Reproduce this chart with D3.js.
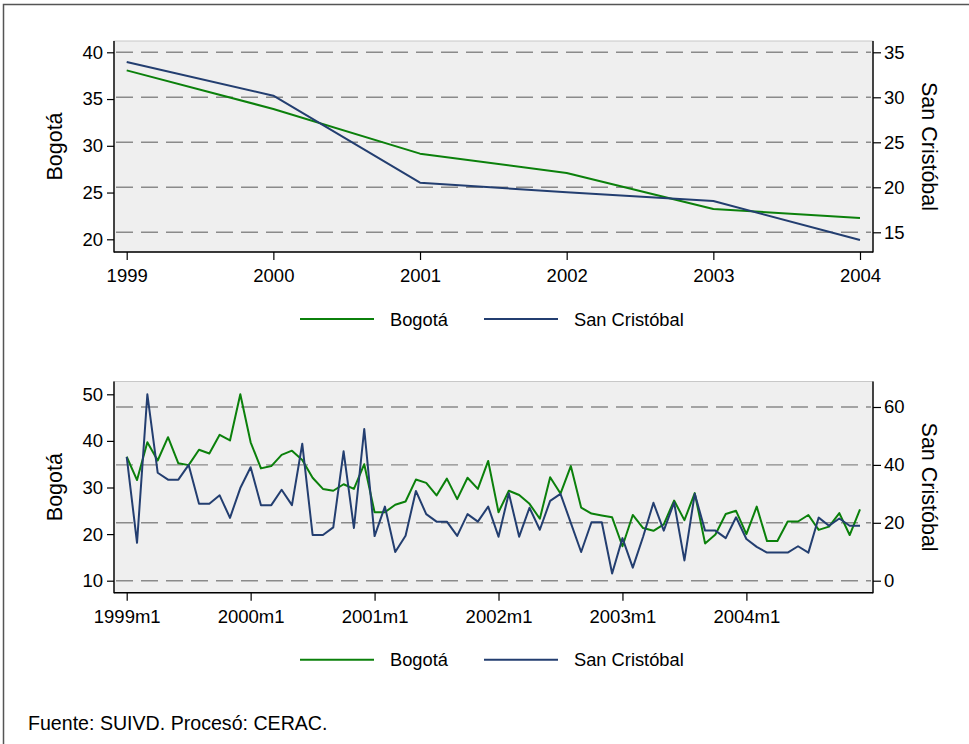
<!DOCTYPE html>
<html>
<head>
<meta charset="utf-8">
<script src="https://cdn.jsdelivr.net/npm/d3@7"></script>
<style>
  body { margin: 0; background: #fff; }
  svg { display: block; font-family: "Liberation Sans", Arial, Helvetica, sans-serif; }
  .tick text { fill: #000; }
</style>
</head>
<body>
<svg id="chart" width="969" height="744"></svg>
<script>
// annual series (top panel)
var years = [1999, 2000, 2001, 2002, 2003, 2004];
var bogotaAnual = [38.07, 33.94, 29.16, 27.1, 23.24, 22.28];
var sanCristobalAnual = [33.92, 30.18, 20.51, 19.44, 18.48, 14.14];

// monthly series (bottom panel), 1999m1 .. 2004m12
var bogotaMensual = [
  36.6, 31.6, 39.7, 35.8, 40.8, 35.2, 34.8, 38.1, 37.3, 41.3, 40.1, 50.0,
  39.7, 34.1, 34.6, 37.0, 37.9, 35.9, 32.1, 29.7, 29.3, 30.7, 29.7, 35.0,
  24.7, 24.7, 26.3, 27.0, 31.7, 31.0, 28.3, 31.9, 27.5, 32.1, 29.7, 35.7,
  24.7, 29.3, 28.4, 26.5, 23.3, 32.2, 28.7, 34.6, 25.7, 24.4, 24.0, 23.6,
  17.4, 24.1, 21.3, 20.7, 22.1, 27.2, 23.0, 28.8, 18.0, 19.9, 24.3, 25.0,
  20.0, 25.9, 18.5, 18.5, 22.7, 22.7, 24.1, 20.9, 21.6, 24.5, 19.8, 25.3
];
var sanCristobalMensual = [
  42.8, 13.1, 64.4, 37.3, 34.9, 34.9, 40.0, 26.6, 26.6, 29.5, 21.7, 32.0,
  39.2, 26.1, 26.1, 31.4, 26.1, 47.3, 15.8, 15.8, 18.4, 44.7, 18.2, 52.4,
  15.4, 25.6, 9.9, 15.5, 31.0, 23.0, 20.4, 20.4, 15.5, 23.0, 20.4, 25.6,
  15.2, 30.2, 15.2, 25.2, 17.6, 27.6, 30.0, 20.0, 9.9, 20.2, 20.2, 2.5,
  14.7, 4.5, 15.2, 26.9, 17.3, 27.0, 7.0, 30.0, 17.3, 17.3, 14.7, 21.9,
  14.4, 11.7, 9.7, 9.7, 9.7, 11.9, 9.7, 21.8, 19.0, 21.5, 19.0, 19.0
];

// tick values / labels
var topLeftTicks = [20, 25, 30, 35, 40];
var topRightTicks = [15, 20, 25, 30, 35];
var botLeftTicks = [10, 20, 30, 40, 50];
var botRightTicks = [0, 20, 40, 60];
var monthTicks = [0, 12, 24, 36, 48, 60];
var monthTickLabels = ["1999m1", "2000m1", "2001m1", "2002m1", "2003m1", "2004m1"];

var seriesNames = ["Bogotá", "San Cristóbal"];
var colors = ["#0b800b", "#233e70"];
var fuente = "Fuente: SUIVD. Procesó: CERAC.";

var svg = d3.select("#chart");

// outer frame
svg.append("rect")
  .attr("x", 3.5).attr("y", 4.5)
  .attr("width", 990).attr("height", 760)
  .attr("fill", "#fff")
  .attr("stroke", "#555")
  .attr("stroke-width", 1.5);

var plotLeft = 114, plotRight = 873;

var drawPanel = function(p) {
  var g = svg.append("g");

  // plot region
  g.append("rect")
    .attr("x", plotLeft).attr("y", p.top)
    .attr("width", plotRight - plotLeft).attr("height", p.bottom - p.top)
    .attr("fill", "#efefef")
    .attr("stroke", "#c8c8c8")
    .attr("stroke-width", 1);

  // dashed grid follows the right axis
  g.append("g").selectAll("line")
    .data(p.rightTicks)
    .enter().append("line")
    .attr("x1", plotLeft + 2).attr("x2", plotRight - 2)
    .attr("y1", function(d) { return p.yR(d); })
    .attr("y2", function(d) { return p.yR(d); })
    .attr("stroke", "#8a8a8a")
    .attr("stroke-width", 1.4)
    .attr("stroke-dasharray", "17,8");

  var line = function(yScale) {
    return d3.line()
      .x(function(d, i) { return p.x(p.xs[i]); })
      .y(function(d) { return yScale(d); });
  };

  g.append("path")
    .datum(p.left)
    .attr("fill", "none")
    .attr("stroke", colors[0])
    .attr("stroke-width", 2)
    .attr("stroke-linejoin", "round")
    .attr("d", line(p.yL));

  g.append("path")
    .datum(p.right)
    .attr("fill", "none")
    .attr("stroke", colors[1])
    .attr("stroke-width", 2)
    .attr("stroke-linejoin", "round")
    .attr("d", line(p.yR));

  // axes
  var ax = g.append("g").attr("transform", "translate(" + plotLeft + ",0)")
    .call(d3.axisLeft(p.yL).tickValues(p.leftTicks).tickSize(7).tickPadding(4));
  var axR = g.append("g").attr("transform", "translate(" + plotRight + ",0)")
    .call(d3.axisRight(p.yR).tickValues(p.rightTicks).tickSize(8).tickPadding(3));
  var axB = g.append("g").attr("transform", "translate(0," + p.bottom + ")")
    .call(d3.axisBottom(p.x).tickValues(p.xTicks).tickFormat(p.xFormat).tickSize(8).tickPadding(9));

  [ax, axR, axB].forEach(function(a) {
    a.select(".domain").remove();
    a.selectAll(".tick line").attr("stroke", "#000").attr("stroke-width", 1.2);
    a.selectAll(".tick text").attr("font-size", 18.5).attr("font-family", null);
  });

  // axis lines (full plot length)
  g.append("line")
    .attr("x1", plotLeft).attr("x2", plotLeft)
    .attr("y1", p.top).attr("y2", p.bottom + 0.6)
    .attr("stroke", "#000").attr("stroke-width", 1.4);
  g.append("line")
    .attr("x1", plotRight).attr("x2", plotRight)
    .attr("y1", p.top).attr("y2", p.bottom + 0.6)
    .attr("stroke", "#000").attr("stroke-width", 1.4);
  g.append("line")
    .attr("x1", plotLeft).attr("x2", plotRight)
    .attr("y1", p.bottom).attr("y2", p.bottom)
    .attr("stroke", "#000").attr("stroke-width", 1.4);

  // axis titles
  var mid = (p.top + p.bottom) / 2;
  g.append("text")
    .attr("transform", "translate(62," + mid + ") rotate(-90)")
    .attr("text-anchor", "middle")
    .attr("font-size", 21.5)
    .text(seriesNames[0]);
  g.append("text")
    .attr("transform", "translate(922," + mid + ") rotate(90)")
    .attr("text-anchor", "middle")
    .attr("font-size", 21.5)
    .text(seriesNames[1]);

  // legend
  var ly = p.bottom + 67;
  var leg = g.append("g").selectAll("g")
    .data(seriesNames)
    .enter().append("g")
    .attr("transform", function(d, i) { return "translate(" + (300 + i * 184) + "," + ly + ")"; });
  leg.append("line")
    .attr("x1", 0).attr("x2", 74)
    .attr("stroke", function(d, i) { return colors[i]; })
    .attr("stroke-width", 2);
  leg.append("text")
    .attr("x", 90).attr("y", 6.5)
    .attr("font-size", 18.3)
    .text(function(d) { return d; });
};

// top panel: annual
drawPanel({
  top: 41, bottom: 252,
  xs: years, xTicks: years,
  xFormat: function(d) { return d; },
  x: d3.scaleLinear().domain([1999, 2004]).range([126.7, 860]),
  yL: d3.scaleLinear().domain([20, 40]).range([239.3, 52.3]),
  yR: d3.scaleLinear().domain([15, 35]).range([232.3, 52.3]),
  left: bogotaAnual, right: sanCristobalAnual,
  leftTicks: topLeftTicks, rightTicks: topRightTicks
});

// bottom panel: monthly
var monthIdx = d3.range(bogotaMensual.length);
drawPanel({
  top: 381.5, bottom: 592.7,
  xs: monthIdx, xTicks: monthTicks,
  xFormat: function(d, i) { return monthTickLabels[i]; },
  x: d3.scaleLinear().domain([0, 71]).range([126.7, 860]),
  yL: d3.scaleLinear().domain([10, 50]).range([580.7, 394.3]),
  yR: d3.scaleLinear().domain([0, 60]).range([580.7, 407]),
  left: bogotaMensual, right: sanCristobalMensual,
  leftTicks: botLeftTicks, rightTicks: botRightTicks
});

svg.append("text")
  .attr("x", 28).attr("y", 730)
  .attr("font-size", 19.6)
  .text(fuente);
</script>
</body>
</html>
